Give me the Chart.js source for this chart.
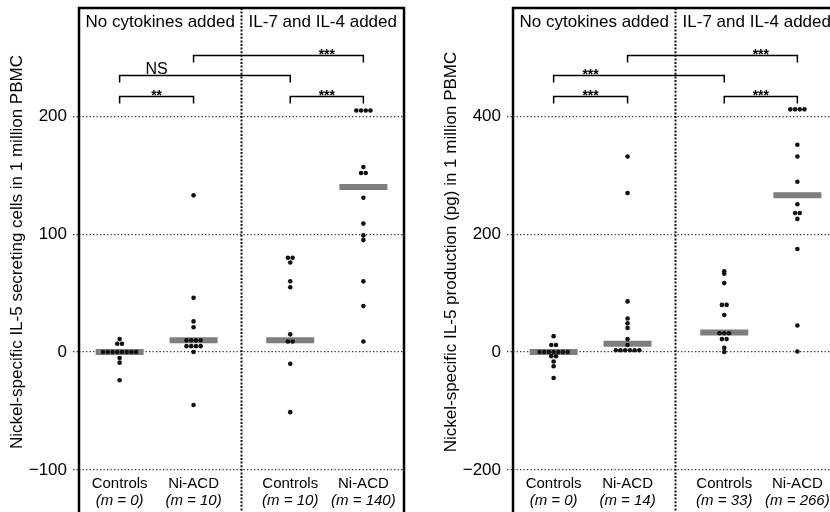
<!DOCTYPE html>
<html>
<head>
<meta charset="utf-8">
<script src="https://cdn.jsdelivr.net/npm/chart.js@4.4.1/dist/chart.umd.min.js"></script>
<style>
  html, body { margin: 0; padding: 0; background: #fff; overflow: hidden; width: 830px; height: 512px; }
  canvas { position: absolute; top: 0; }
  #cells { left: 0; }
  #production { left: 434px; }
</style>
</head>
<body>
<canvas id="cells" width="420" height="520"></canvas>
<canvas id="production" width="420" height="520"></canvas>
<script>
//-----------------------------------------------------------------------------
// Data
//-----------------------------------------------------------------------------

var groupNames = ['Controls', 'Ni-ACD', 'Controls', 'Ni-ACD'];
var conditions = ['No cytokines added', 'IL-7 and IL-4 added'];

// left panel: IL-5 secreting cells in 1 million PBMC
var cellsCtrlNone = [11, 7, 7, 0, 0, 0, 0, 0, 0, 0, 0, -5, -9, -24];
var cellsNiNone = [133, 46, 26, 21, 10, 10, 10, 10, 5, 5, 5, 5, 0, -45];
var cellsCtrlIL = [80, 80, 76, 60, 55, 15, 9, 9, -10, -51];
var cellsNiIL = [205, 205, 205, 205, 157, 152, 152, 131, 109, 99, 95, 60, 39, 9];
var cellsMedians = [0, 10, 10, 140];
var cellsTicks = [-100, 0, 100, 200];
// [from group, to group, level, significance]
var cellsBrackets = [[0, 1, 217, '**'], [0, 2, 235, 'NS'], [1, 3, 252, '***'], [2, 3, 217, '***']];

// right panel: IL-5 production (pg) in 1 million PBMC
var pgCtrlNone = [27, 12, 12, 0, 0, 0, 0, 0, 0, 0, -7, -7, -16, -24, -44];
var pgNiNone = [332, 270, 86, 57, 49, 41, 22, 12, 3, 3, 3, 3, 3, 3];
var pgCtrlIL = [137, 133, 117, 80, 80, 63, 32, 32, 32, 22, 22, 7, 0];
var pgNiIL = [412, 412, 412, 412, 352, 332, 289, 251, 236, 236, 226, 175, 45, 1];
var pgMedians = [0, 14, 33, 266];
var pgTicks = [-200, 0, 200, 400];
var pgBrackets = [[0, 1, 435, '***'], [0, 2, 470, '***'], [1, 3, 504, '***'], [2, 3, 435, '***']];

//-----------------------------------------------------------------------------
// Layout
//-----------------------------------------------------------------------------

var groupX = [1, 2.82, 5.2, 7]; // position of each group on the x scale (0..8)
var dividerX = 4;
var dotStep = 0.116; // horizontal spacing of tied dots, in x units
var FONT = '"Liberation Sans", Arial, Helvetica, sans-serif';

// spread tied values side by side, like a dot plot
function dotPoints(groups) {
  var pts = [];
  groups.forEach(function(vals, g) {
    var counts = {}, seen = {};
    vals.forEach(function(v) { counts[v] = (counts[v] || 0) + 1; });
    vals.forEach(function(v) {
      var k = seen[v] || 0;
      seen[v] = k + 1;
      pts.push({x: groupX[g] + (k - (counts[v] - 1) / 2) * dotStep, y: v});
    });
  });
  return pts;
}

function minus(v) {
  return v < 0 ? '\u2212' + Math.abs(v) : String(v);
}

//-----------------------------------------------------------------------------
// Frame, headers, brackets and labels
//-----------------------------------------------------------------------------

var decor = {
  id: 'decor',
  beforeDatasetsDraw: function(chart) {
    var ctx = chart.ctx, a = chart.chartArea;
    var x = chart.scales.x.getPixelForValue(dividerX);
    ctx.save();
    ctx.strokeStyle = '#111';
    ctx.lineWidth = 2;
    ctx.setLineDash([2, 1.6]);
    ctx.beginPath();
    ctx.moveTo(x, a.top);
    ctx.lineTo(x, a.bottom);
    ctx.stroke();
    ctx.restore();
  },
  afterDraw: function(chart, args, o) {
    var ctx = chart.ctx, a = chart.chartArea;
    var xs = chart.scales.x, ys = chart.scales.y;
    ctx.save();
    ctx.fillStyle = '#000';
    ctx.strokeStyle = '#000';

    // axis title
    ctx.save();
    ctx.translate(17, 252);
    ctx.rotate(-Math.PI / 2);
    ctx.font = '17px ' + FONT;
    ctx.textAlign = 'center';
    ctx.textBaseline = 'middle';
    ctx.fillText(o.title, 0, 0);
    ctx.restore();

    // condition headers
    ctx.font = '17px ' + FONT;
    ctx.textAlign = 'center';
    ctx.textBaseline = 'alphabetic';
    var xd = xs.getPixelForValue(dividerX);
    ctx.fillText(conditions[0], (a.left + xd) / 2, 27);
    ctx.fillText(conditions[1], (xd + a.right) / 2, 27);

    // group labels with medians
    groupNames.forEach(function(name, i) {
      var gx = xs.getPixelForValue(groupX[i]);
      ctx.font = '15px ' + FONT;
      ctx.fillText(name, gx, a.bottom - 29);
      ctx.font = 'italic 15px ' + FONT;
      ctx.fillText('(m = ' + o.medians[i] + ')', gx, a.bottom - 12);
    });

    // significance brackets
    ctx.lineWidth = 1.5;
    o.brackets.forEach(function(b) {
      var x1 = xs.getPixelForValue(groupX[b[0]]);
      var x2 = xs.getPixelForValue(groupX[b[1]]);
      var y = Math.round(ys.getPixelForValue(b[2])) + 0.5;
      ctx.beginPath();
      ctx.moveTo(x1, y + 7);
      ctx.lineTo(x1, y);
      ctx.lineTo(x2, y);
      ctx.lineTo(x2, y + 7);
      ctx.stroke();
      var p = b[0] < 1 ? 0 : 2;
      var lx = (xs.getPixelForValue(groupX[p]) + xs.getPixelForValue(groupX[p + 1])) / 2;
      if (b[3] == 'NS') {
        ctx.font = '16px ' + FONT;
        ctx.fillText(b[3], lx, y - 2);
      } else {
        ctx.font = 'bold 14px ' + FONT;
        ctx.fillText(b[3], lx, y + 3);
      }
    });

    // frame
    ctx.lineWidth = 2.5;
    ctx.strokeRect(a.left, a.top, a.right - a.left, a.bottom - a.top);
    ctx.restore();
  }
};

//-----------------------------------------------------------------------------
// Chart
//-----------------------------------------------------------------------------

function makePanel(id, groups, medians, ticks, yMin, yMax, title, brackets) {
  return new Chart(document.getElementById(id), {
    type: 'scatter',
    data: {
      datasets: [{
        data: dotPoints(groups),
        pointRadius: 2.3,
        pointBorderWidth: 0,
        pointBackgroundColor: '#111'
      }, {
        data: medians.map(function(m, i) { return {x: groupX[i], y: m}; }),
        pointStyle: 'line',
        pointRadius: 24,
        pointBorderWidth: 6,
        pointBorderColor: '#7e7e7e'
      }]
    },
    options: {
      responsive: false,
      animation: false,
      layout: {autoPadding: false, padding: {top: 8, left: 0, right: 16, bottom: 3}},
      plugins: {
        legend: {display: false},
        tooltip: {enabled: false},
        decor: {title: title, medians: medians, brackets: brackets}
      },
      scales: {
        x: {type: 'linear', min: 0, max: 8, display: false},
        y: {
          min: yMin,
          max: yMax,
          afterFit: function(s) {
            s.width = 79;
            s.paddingTop = 0;
            s.paddingBottom = 0;
          },
          afterBuildTicks: function(s) {
            s.ticks = ticks.map(function(v) { return {value: v}; });
          },
          border: {display: false, dash: [1.3, 2.2]},
          grid: {color: '#333', lineWidth: 1.3, tickLength: 6, tickColor: '#333', tickBorderDash: [1.3, 2.2]},
          ticks: {
            padding: 6,
            color: '#000',
            font: {family: FONT, size: 17},
            callback: function(v) { return minus(v); }
          }
        }
      }
    },
    plugins: [decor]
  });
}

makePanel('cells', [cellsCtrlNone, cellsNiNone, cellsCtrlIL, cellsNiIL], cellsMedians, cellsTicks,
  -140, 292, 'Nickel-specific IL-5 secreting cells in 1 million PBMC', cellsBrackets);
makePanel('production', [pgCtrlNone, pgNiNone, pgCtrlIL, pgNiIL], pgMedians, pgTicks,
  -280, 584, 'Nickel-specific IL-5 production (pg) in 1 million PBMC', pgBrackets);
</script>
</body>
</html>
